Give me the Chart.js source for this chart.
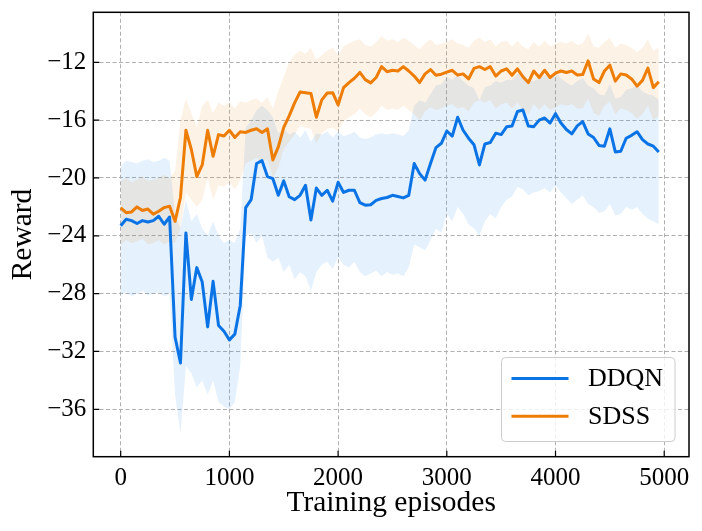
<!DOCTYPE html>
<html>
<head>
<meta charset="utf-8">
<script src="https://cdn.jsdelivr.net/npm/chart.js@4/dist/chart.umd.min.js"></script>
<style>
  html, body { margin: 0; padding: 0; background: #fff; }
  #wrap { width: 702px; height: 531px; position: relative; }
</style>
</head>
<body>
<div id="wrap"><canvas id="reward-chart"></canvas></div>
<script>
// training episodes (x)
let episodes = [0, 50, 100, 150, 200, 250, 300, 350, 400, 450,
  500, 550, 600, 650, 700, 750, 800, 850, 900, 950,
  1000, 1050, 1100, 1150, 1200, 1250, 1300, 1350, 1400, 1450,
  1500, 1550, 1600, 1650, 1700, 1750, 1800, 1850, 1900, 1950,
  2000, 2050, 2100, 2150, 2200, 2250, 2300, 2350, 2400, 2450,
  2500, 2550, 2600, 2650, 2700, 2750, 2800, 2850, 2900, 2950,
  3000, 3050, 3100, 3150, 3200, 3250, 3300, 3350, 3400, 3450,
  3500, 3550, 3600, 3650, 3700, 3750, 3800, 3850, 3900, 3950,
  4000, 4050, 4100, 4150, 4200, 4250, 4300, 4350, 4400, 4450,
  4500, 4550, 4600, 4650, 4700, 4750, 4800, 4850, 4900, 4950];

let ddqnMean = [-23.3, -22.85, -22.95, -23.15, -22.95, -23.05, -22.95, -22.65, -23.2, -22.7,
  -31.0, -32.8, -23.8, -28.4, -26.2, -27.2, -30.3, -27.15, -30.2, -30.6,
  -31.2, -30.8, -28.8, -22.05, -21.5, -19.0, -18.8, -19.9, -20.05, -21.2,
  -20.2, -21.3, -21.5, -21.2, -20.5, -22.9, -20.7, -21.2, -20.85, -21.6,
  -20.3, -21.0, -20.85, -20.85, -21.7, -21.88, -21.85, -21.55, -21.42, -21.35,
  -21.2, -21.28, -21.38, -21.2, -19.0, -19.7, -20.15, -19.0, -17.9, -17.6,
  -16.75, -17.1, -15.8, -16.7, -17.25, -17.7, -19.1, -17.65, -17.55, -16.9,
  -17.0, -16.46, -16.4, -15.4, -15.3, -16.4, -16.45, -16.0, -15.85, -16.2,
  -15.55, -16.2, -16.65, -16.95, -16.4, -16.1, -16.95, -17.2, -17.75, -17.8,
  -16.6, -18.2, -18.15, -17.25, -17.05, -16.8, -17.35, -17.65, -17.8, -18.2];

let ddqnUpper = [-19.2, -18.8, -18.9, -19.0, -18.8, -18.7, -18.9, -18.8, -18.6, -18.8,
  -22.5, -23.5, -21.5, -23.0, -22.5, -23.5, -24.0, -23.0, -24.0, -24.5,
  -24.3, -24.5, -23.5, -16.5, -16.0, -15.3, -15.0, -15.3, -15.8, -16.9,
  -16.6, -17.0, -16.8, -17.2, -16.7, -17.5, -16.9, -17.0, -16.8, -17.2,
  -16.8, -17.1, -17.0, -16.8, -17.2, -17.3, -17.2, -17.0, -16.9, -17.0,
  -16.9, -17.0, -17.1, -16.7, -15.0, -14.6, -14.8, -14.2, -13.6, -13.5,
  -13.0, -13.2, -12.9, -13.3, -13.6, -13.8, -14.6, -13.7, -13.6, -13.3,
  -13.4, -13.2, -13.2, -12.8, -12.7, -13.3, -13.3, -13.1, -12.9, -13.1,
  -12.7, -13.1, -13.4, -13.6, -13.3, -13.1, -13.6, -13.8, -14.2, -14.3,
  -13.5, -14.5, -14.4, -13.9, -13.8, -13.6, -14.0, -14.2, -14.3, -14.6];

let ddqnLower = [-28.1, -27.9, -28.2, -28.0, -27.8, -28.1, -28.0, -27.9, -28.2, -28.0,
  -35.0, -37.7, -33.0, -33.5, -34.5, -34.0, -35.0, -34.0, -35.5, -35.8,
  -36.0, -35.5, -33.0, -24.0, -23.8, -24.5, -24.0, -25.5, -25.8, -25.5,
  -26.5, -26.0, -27.0, -26.5, -26.8, -27.8, -26.5, -26.0, -25.8, -26.3,
  -25.5, -26.0, -26.2, -25.8, -26.5, -26.8, -26.6, -26.4, -26.8, -26.5,
  -26.7, -26.6, -26.8, -26.2, -24.6, -24.8, -25.0, -24.3, -23.5, -23.8,
  -22.5, -23.0, -22.0, -22.5, -23.2, -23.5, -24.0, -23.0, -22.5, -22.8,
  -22.0, -21.5, -21.3, -20.6, -20.8, -21.2, -21.0, -20.9, -20.7, -21.0,
  -20.5, -21.0, -21.4, -21.8, -21.5, -21.2, -21.8, -22.0, -22.4, -22.3,
  -21.8, -22.6, -22.5, -22.0, -22.2, -22.0, -22.5, -22.8, -23.0, -23.2];

let sdssMean = [-22.07, -22.4, -22.35, -22.0, -22.25, -22.15, -22.5, -22.3, -22.05, -21.95,
  -23.0, -21.35, -16.7, -18.03, -19.9, -19.1, -16.7, -18.5, -17.0, -17.1,
  -16.7, -17.2, -16.8, -16.85, -16.7, -16.6, -16.85, -16.6, -18.75, -17.85,
  -16.5, -15.7, -14.8, -14.05, -14.1, -14.15, -15.8, -14.6, -14.12, -14.1,
  -14.95, -13.75, -13.4, -13.1, -12.7, -13.2, -13.42, -13.05, -12.3, -12.65,
  -12.55, -12.6, -12.3, -12.6, -12.95, -13.4, -12.8, -12.5, -12.9, -12.82,
  -12.68, -12.55, -12.88, -12.8, -13.15, -12.42, -12.3, -12.5, -12.3, -12.95,
  -12.6, -12.45, -12.9, -12.45, -13.0, -13.4, -12.6, -13.05, -12.55, -13.05,
  -12.75, -12.6, -12.7, -12.6, -12.88, -12.85, -11.9, -13.15, -13.4, -12.6,
  -12.2, -13.3, -12.8, -12.88, -13.15, -13.65, -13.25, -12.4, -13.75, -13.35];

let sdssUpper = [-20.2, -20.0, -20.3, -20.1, -19.9, -20.2, -20.1, -20.0, -19.8, -20.0,
  -19.5, -16.0, -14.5, -15.5, -16.5, -15.0, -14.6, -15.5, -14.8, -15.0,
  -14.8, -15.2, -14.7, -14.8, -14.6, -14.5, -14.8, -14.4, -15.2, -14.0,
  -13.0, -12.0, -11.5, -11.2, -11.4, -11.0, -11.8, -11.5, -11.2, -11.0,
  -11.5, -10.9, -10.7, -10.5, -10.4, -10.8, -10.9, -10.6, -10.2, -10.5,
  -10.4, -10.6, -10.3, -10.5, -10.8, -11.1, -10.7, -10.4, -10.8, -10.7,
  -10.6, -10.4, -10.7, -10.8, -11.0, -10.5, -10.3, -10.6, -10.4, -10.9,
  -10.6, -10.5, -10.9, -10.5, -10.9, -11.1, -10.6, -10.9, -10.5, -10.9,
  -10.7, -10.6, -10.7, -10.5, -10.8, -10.7, -10.0, -10.9, -11.0, -10.6,
  -10.3, -11.0, -10.7, -10.8, -11.0, -11.3, -11.0, -10.4, -11.2, -11.0];

let sdssLower = [-24.6, -24.3, -24.5, -24.4, -24.2, -24.6, -24.5, -24.3, -24.6, -24.4,
  -24.5, -23.5, -21.0, -21.5, -22.0, -21.5, -20.0, -21.5, -20.5, -20.6,
  -20.3, -20.8, -20.2, -19.0, -18.8, -18.6, -18.9, -18.7, -20.0, -19.3,
  -18.0, -17.5, -17.0, -16.4, -16.5, -16.6, -17.6, -16.9, -16.6, -16.5,
  -16.8, -16.1, -15.8, -15.6, -15.2, -15.6, -15.8, -15.5, -15.0, -15.3,
  -15.2, -15.3, -15.0, -15.3, -15.6, -16.0, -15.4, -15.1, -15.3, -15.2,
  -15.0, -14.9, -15.2, -15.1, -15.4, -14.8, -14.6, -14.8, -14.6, -15.2,
  -14.9, -14.8, -15.2, -14.8, -15.3, -15.6, -14.9, -15.3, -14.9, -15.3,
  -15.1, -14.9, -15.0, -14.9, -15.2, -15.2, -14.5, -15.5, -15.7, -15.0,
  -14.7, -15.6, -15.2, -15.3, -15.5, -15.9, -15.6, -15.0, -16.0, -15.7];

let xTicks = [0, 1000, 2000, 3000, 4000, 5000];
let yTicks = [-36, -32, -28, -24, -20, -16, -12];
let legendNames = ['DDQN', 'SDSS'];

let blue = '#0a74e6';
let orange = '#ee7d05';
let serif = "'Liberation Serif', 'Times New Roman', serif";

function pts(arr){
  return episodes.map((e, i) => ({x: e, y: arr[i]}));
}

// frame, inward ticks and the legend box
let framePlugin = {
  id: 'frame',
  afterDatasetsDraw(chart){
    let ctx = chart.ctx;
    let a = chart.chartArea;
    let xs = chart.scales.x, ys = chart.scales.y;
    ctx.save();
    ctx.strokeStyle = '#000';
    ctx.lineWidth = 1.2;
    ctx.beginPath();
    xTicks.forEach(v => {
      let px = xs.getPixelForValue(v);
      ctx.moveTo(px, a.bottom); ctx.lineTo(px, a.bottom - 6);
    });
    yTicks.forEach(v => {
      let py = ys.getPixelForValue(v);
      ctx.moveTo(a.left, py); ctx.lineTo(a.left + 6, py);
    });
    ctx.stroke();
    ctx.lineWidth = 1.5;
    ctx.strokeRect(a.left, a.top, a.right - a.left, a.bottom - a.top);

    // legend
    let bx = 501.5, by = 357.5, bw = 173.5, bh = 84;
    ctx.beginPath();
    ctx.roundRect(bx, by, bw, bh, 4);
    ctx.fillStyle = 'rgba(255,255,255,0.8)';
    ctx.fill();
    ctx.strokeStyle = '#cccccc';
    ctx.lineWidth = 1;
    ctx.stroke();
    legendNames.forEach((name, i) => {
      let d = chart.data.datasets.find(ds => ds.label === name);
      let ly = 378.5 + i * 37.7;
      ctx.beginPath();
      ctx.strokeStyle = d.borderColor;
      ctx.lineWidth = 3;
      ctx.moveTo(511.5, ly); ctx.lineTo(568.5, ly);
      ctx.stroke();
      ctx.fillStyle = '#000';
      ctx.font = '26px ' + serif;
      ctx.textBaseline = 'middle';
      ctx.textAlign = 'left';
      ctx.fillText(name, 588, ly + 1);
    });
    ctx.restore();
  }
};

new Chart('reward-chart', {
  type: 'line',
  data: {
    datasets: [
      {label: 'SDSS', data: pts(sdssMean), borderColor: orange, borderWidth: 3,
       pointRadius: 0, fill: false, borderJoinStyle: 'round'},
      {label: 'DDQN', data: pts(ddqnMean), borderColor: blue, borderWidth: 3,
       pointRadius: 0, fill: false, borderJoinStyle: 'round'},
      {label: 'SDSS upper', data: pts(sdssUpper), borderWidth: 0, pointRadius: 0,
       fill: '+1', backgroundColor: 'rgba(240,125,10,0.10)'},
      {label: 'SDSS lower', data: pts(sdssLower), borderWidth: 0, pointRadius: 0, fill: false},
      {label: 'DDQN upper', data: pts(ddqnUpper), borderWidth: 0, pointRadius: 0,
       fill: '+1', backgroundColor: 'rgba(10,120,235,0.105)'},
      {label: 'DDQN lower', data: pts(ddqnLower), borderWidth: 0, pointRadius: 0, fill: false}
    ]
  },
  options: {
    responsive: true,
    maintainAspectRatio: false,
    animation: false,
    layout: {padding: {left: 0, right: 13, top: 12.3, bottom: 0}},
    plugins: {legend: {display: false}, tooltip: {enabled: false}},
    scales: {
      x: {
        type: 'linear',
        min: -252, max: 5228,
        afterBuildTicks: s => { s.ticks = xTicks.map(v => ({value: v})); },
        afterFit: s => { s.height = 74.3; s.paddingLeft = 0; s.paddingRight = 0; },
        grid: {color: '#b0b0b0', lineWidth: 1, drawTicks: false},
        border: {display: false, dash: [4, 2.5]},
        ticks: {color: '#000', font: {family: serif, size: 25}, padding: 7, maxRotation: 0,
                callback: v => String(v)},
        title: {display: true, text: 'Training episodes', color: '#000',
                font: {family: serif, size: 29.5}, padding: {top: 0, bottom: 10.5}}
      },
      y: {
        type: 'linear',
        min: -39.28, max: -8.54,
        afterBuildTicks: s => { s.ticks = yTicks.map(v => ({value: v})); },
        afterFit: s => { s.width = 93.3; s.paddingTop = 0; s.paddingBottom = 0; },
        grid: {color: '#b0b0b0', lineWidth: 1, drawTicks: false},
        border: {display: false, dash: [4, 2.5]},
        ticks: {color: '#000', font: {family: serif, size: 25}, padding: 7,
                callback: v => '\u2212' + Math.abs(v)},
        title: {display: true, text: 'Reward', color: '#000',
                font: {family: serif, size: 29.5}, padding: {top: 5.5, bottom: 0}}
      }
    }
  },
  plugins: [framePlugin]
});
</script>
</body>
</html>
